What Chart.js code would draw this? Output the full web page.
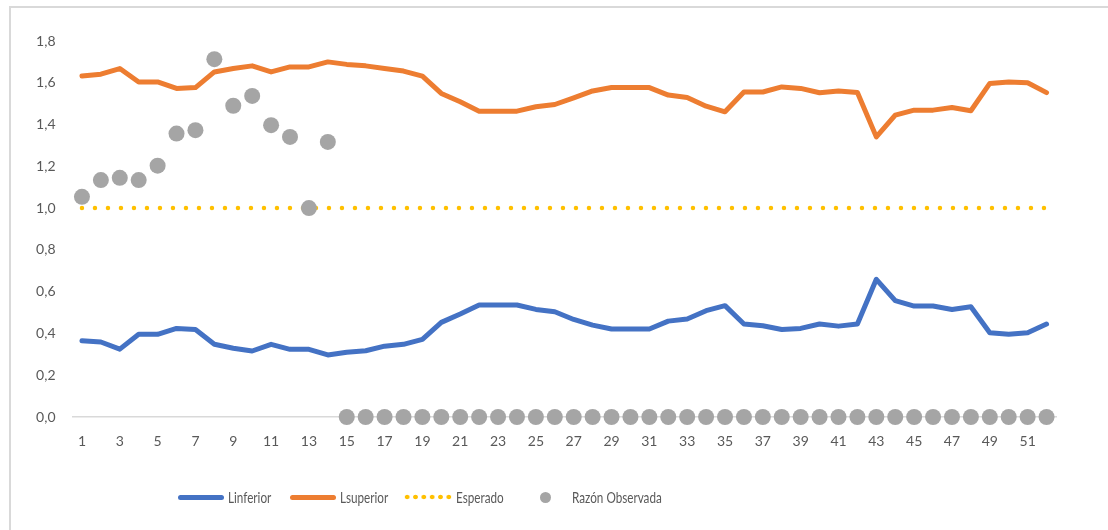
<!DOCTYPE html>
<html>
<head>
<meta charset="utf-8">
<script src="https://cdn.jsdelivr.net/npm/chart.js@4/dist/chart.umd.min.js"></script>
<style>
  body { margin: 0; background: #fff; }
  #wrap { position: relative; width: 1108px; height: 530px; overflow: hidden; }
  #frame { position: absolute; left: 9px; top: 6px; right: -10px; bottom: -10px;
           border-top: 2px solid #d9d9d9; border-left: 2px solid #d9d9d9; }
  #chart { position: absolute; left: 0; top: 0; }
  .lg { position: absolute; top: 488px; height: 18px; display: flex; align-items: center;
        font: 15px Lato, "Liberation Sans", sans-serif; color: #595959; white-space: nowrap; }
  .lg .txt { display: inline-block; transform: scaleX(0.78); transform-origin: left center; }
  .lg .line { width: 46px; height: 5px; border-radius: 3px; margin-right: 4px; }
  .lg .dots { width: 50px; height: 6px; margin-right: 3px;
              background: radial-gradient(circle, #ffc000 2px, transparent 2.6px) 0 0 / 8.33px 6px repeat-x; }
  .lg .dot { width: 11px; height: 11px; border-radius: 50%; margin: 0 21px 0 0; }
</style>
</head>
<body>
<div id="wrap">
  <div id="frame"></div>
  <canvas id="chart" width="1108" height="530"></canvas>
</div>
<script>
var weeks = ['1','2','3','4','5','6','7','8','9','10','11','12','13','14','15','16','17','18','19','20',
             '21','22','23','24','25','26','27','28','29','30','31','32','33','34','35','36','37','38','39','40',
             '41','42','43','44','45','46','47','48','49','50','51','52'];

var linferior = [0.365, 0.359, 0.325, 0.396, 0.396, 0.424, 0.419, 0.348, 0.329, 0.316,
                 0.348, 0.324, 0.324, 0.297, 0.310, 0.317, 0.339, 0.348, 0.372, 0.453,
                 0.493, 0.536, 0.536, 0.536, 0.515, 0.504, 0.467, 0.440, 0.421, 0.421,
                 0.421, 0.459, 0.469, 0.509, 0.533, 0.445, 0.437, 0.419, 0.424, 0.445,
                 0.435, 0.445, 0.659, 0.557, 0.531, 0.531, 0.515, 0.528, 0.403, 0.396,
                 0.403, 0.445];

var lsuperior = [1.632, 1.641, 1.668, 1.604, 1.604, 1.573, 1.577, 1.652, 1.668, 1.681,
                 1.652, 1.676, 1.676, 1.700, 1.688, 1.681, 1.668, 1.656, 1.632, 1.549,
                 1.509, 1.464, 1.464, 1.464, 1.485, 1.496, 1.528, 1.561, 1.577, 1.577,
                 1.577, 1.541, 1.530, 1.488, 1.461, 1.556, 1.556, 1.580, 1.573, 1.552,
                 1.561, 1.553, 1.341, 1.445, 1.469, 1.469, 1.482, 1.466, 1.597, 1.604,
                 1.600, 1.553];

var esperado = [1, 1, 1, 1, 1, 1, 1, 1, 1, 1, 1, 1, 1, 1, 1, 1, 1, 1, 1, 1,
                1, 1, 1, 1, 1, 1, 1, 1, 1, 1, 1, 1, 1, 1, 1, 1, 1, 1, 1, 1,
                1, 1, 1, 1, 1, 1, 1, 1, 1, 1, 1, 1];

var razon = [1.054, 1.134, 1.145, 1.134, 1.203, 1.357, 1.373, 1.713, 1.490, 1.537,
             1.397, 1.341, 1.000, 1.317, 0, 0, 0, 0, 0, 0,
             0, 0, 0, 0, 0, 0, 0, 0, 0, 0,
             0, 0, 0, 0, 0, 0, 0, 0, 0, 0,
             0, 0, 0, 0, 0, 0, 0, 0, 0, 0,
             0, 0];

var y_tick_labels = ['0,0', '0,2', '0,4', '0,6', '0,8', '1,0', '1,2', '1,4', '1,6', '1,8'];

const tick_font = { family: 'Lato', size: 14 };

const datasets = [
    { label: 'Razón Observada', data: razon, showLine: false, order: 0, clip: false,
      pointRadius: 8, pointHoverRadius: 8, pointBackgroundColor: '#a5a5a5', pointBorderWidth: 0,
      borderColor: '#a5a5a5', backgroundColor: '#a5a5a5', legend_kind: 'dot' },
    { label: 'Linferior', data: linferior, order: 1, borderColor: '#4472c4', borderWidth: 5,
      pointRadius: 0, borderJoinStyle: 'round', borderCapStyle: 'round', tension: 0, legend_kind: 'line' },
    { label: 'Lsuperior', data: lsuperior, order: 2, borderColor: '#ed7d31', borderWidth: 5,
      pointRadius: 0, borderJoinStyle: 'round', borderCapStyle: 'round', tension: 0, legend_kind: 'line' },
    { label: 'Esperado', data: esperado, order: 3, borderColor: '#ffc000', borderWidth: 4.5,
      borderDash: [0, 13], borderCapStyle: 'round', pointRadius: 0, legend_kind: 'dots' }
];

const ctx = document.getElementById('chart').getContext('2d');
const chart = new Chart(ctx, {
    type: 'line',
    data: { labels: weeks, datasets: datasets },
    options: {
        responsive: false,
        animation: false,
        devicePixelRatio: 1,
        layout: { padding: { left: 0, right: 52, top: 41, bottom: 83 } },
        plugins: { legend: { display: false }, tooltip: { enabled: false } },
        scales: {
            x: {
                offset: true,
                grid: { display: false, drawTicks: false },
                border: { display: true, color: '#d9d9d9', width: 1.5 },
                ticks: {
                    autoSkip: false, maxRotation: 0, padding: 16, color: '#595959', font: tick_font,
                    callback: function (val, idx) { return idx % 2 === 0 ? weeks[idx] : ''; }
                },
                afterFit: function (scale) { scale.height = 30; }
            },
            y: {
                min: 0, max: 1.8,
                grid: { display: false, drawTicks: false },
                border: { display: false },
                ticks: {
                    stepSize: 0.2, padding: 17, color: '#595959', font: tick_font,
                    callback: function (val, idx) { return y_tick_labels[idx]; }
                },
                afterFit: function (scale) { scale.width = 72.5; }
            }
        }
    }
});

// legend built from the datasets, in the reference order
const legend_order = ['Linferior', 'Lsuperior', 'Esperado', 'Razón Observada'];
const legend_left = [178, 290, 403, 540];
const wrap = document.getElementById('wrap');
legend_order.forEach(function (name, i) {
    const ds = datasets.find(function (d) { return d.label === name; });
    const item = document.createElement('div');
    item.className = 'lg';
    item.style.left = legend_left[i] + 'px';
    const mark = document.createElement('span');
    mark.className = ds.legend_kind;
    if (ds.legend_kind === 'line') mark.style.background = ds.borderColor;
    if (ds.legend_kind === 'dot') mark.style.background = ds.pointBackgroundColor;
    const txt = document.createElement('span');
    txt.className = 'txt';
    txt.innerText = ds.label;
    item.appendChild(mark);
    item.appendChild(txt);
    wrap.appendChild(item);
});
</script>
</body>
</html>
